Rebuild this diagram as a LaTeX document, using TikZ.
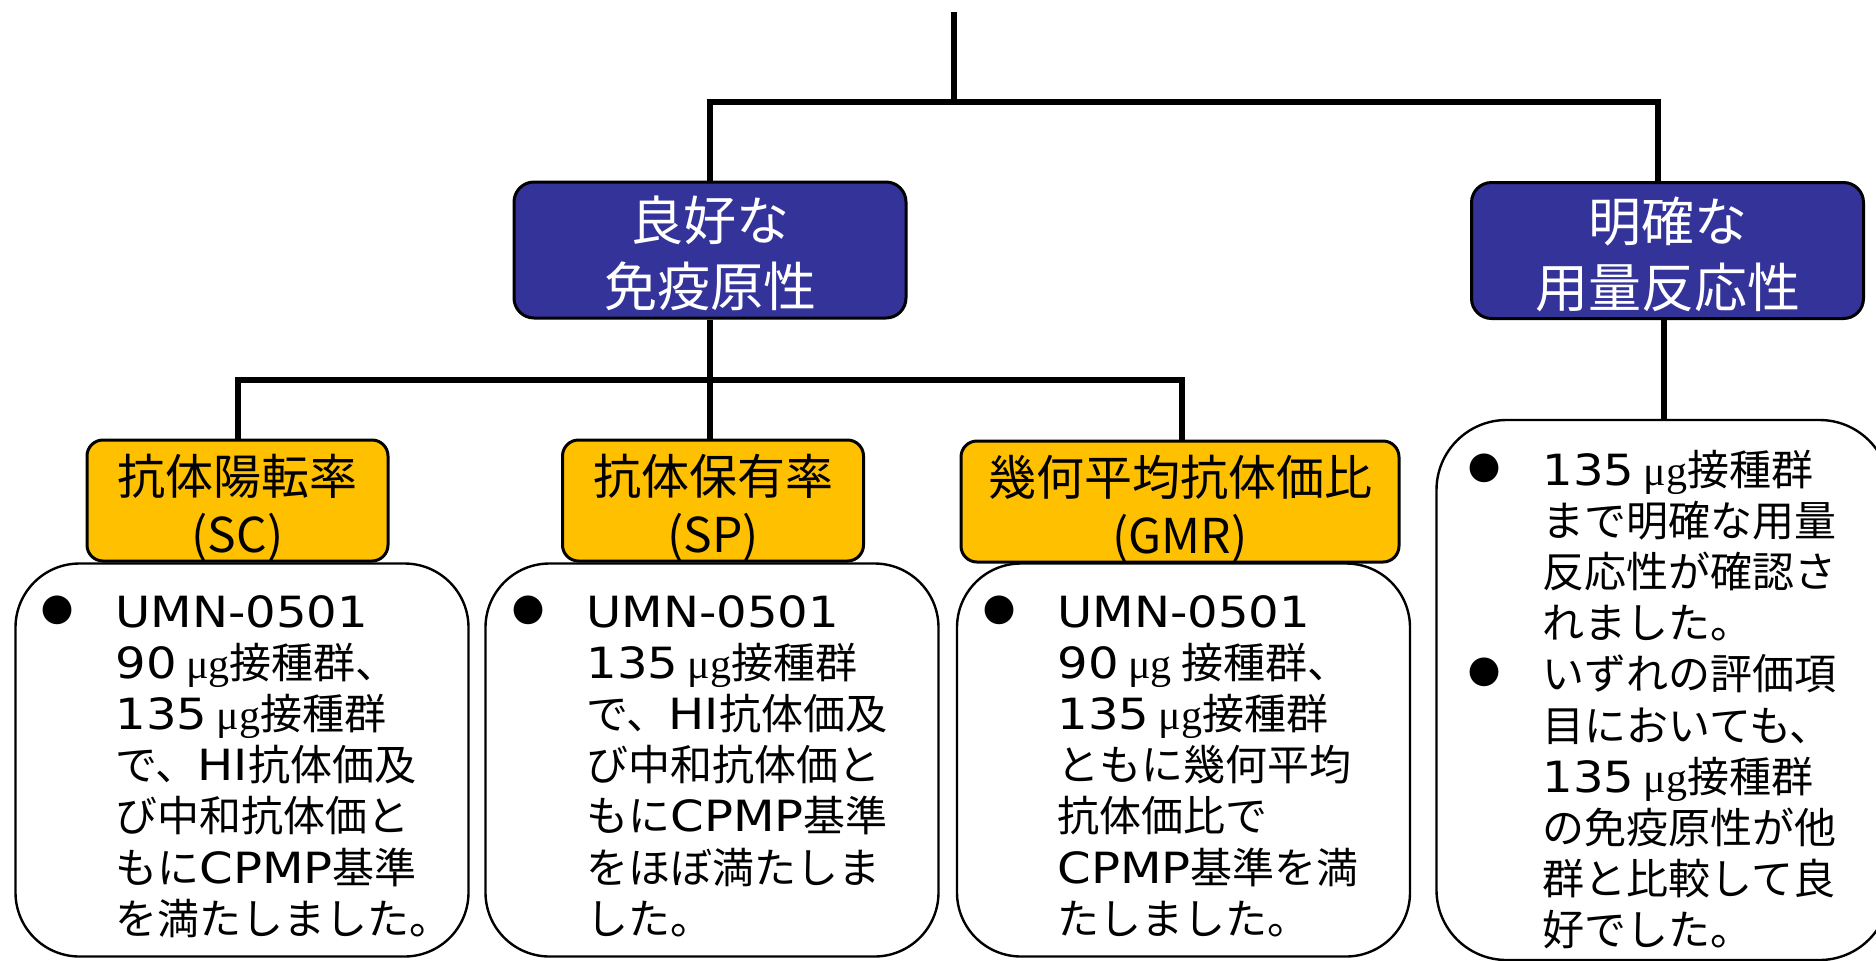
\documentclass[tikz,border=0pt]{standalone}
\usepackage{fontspec}
\setmainfont{Noto Sans CJK JP}
\newfontfamily\mufont{Liberation Serif}
\newfontfamily\latfont[FakeStretch=1.12]{DejaVu Sans}
\definecolor{navy}{RGB}{51,51,153}
\definecolor{amber}{RGB}{255,192,0}
\newcommand{\ug}{{\mufont μg}}
\newcommand{\lt}[1]{{\latfont\fontsize{21.5pt}{25.6pt}\selectfont #1}}
\newcommand{\bul}{\makebox[37pt][l]{\raisebox{2.5pt}{\fontsize{16pt}{16pt}\selectfont ●}}}
\begin{document}
\begin{tikzpicture}[x=0.5pt,y=-0.5pt,
  bluebox/.style={draw=black, line width=1.5pt, fill=navy, rounded corners=10pt,
    minimum width=196pt, minimum height=68pt, inner sep=0pt},
  bluetext/.style={text=white, align=center, inner sep=0pt,
    font=\fontsize{26.5pt}{33pt}\selectfont},
  ambbox/.style={draw=black, line width=1.5pt, fill=amber, rounded corners=8pt,
    minimum height=60.5pt, inner sep=0pt},
  ambtext/.style={align=center, inner sep=0pt, font=\fontsize{24pt}{29pt}\selectfont},
  wbox/.style={draw=black, line width=1.2pt, fill=white, rounded corners=32pt,
    minimum width=226.5pt, minimum height=196.5pt, inner sep=0pt},
  wtext/.style={anchor=base west, inner sep=0pt, font=\fontsize{21pt}{25.6pt}\selectfont},
  conn/.style={line width=3pt}]
\fill[white] (0,0) rectangle (1876,960);
\useasboundingbox (0,0) rectangle (1876,960);

% boxes
\node[bluebox] (b1) at (710,250) {};
\node[bluetext] (b1t) at (710,253.5) {良好な\\免疫原性};
\node[bluebox] (b2) at (1667.5,250.5) {};
\node[bluetext] (b2t) at (1667.5,254) {明確な\\用量反応性};

\node[ambbox, minimum width=150.5pt] (y1) at (237.5,500.5) {};
\node[ambtext] (y1t) at (237.5,508) {抗体陽転率\\(SC)};
\node[ambbox, minimum width=150.5pt] (y2) at (713,500.5) {};
\node[ambtext] (y2t) at (713,508) {抗体保有率\\(SP)};
\node[ambbox, minimum width=219pt] (y3) at (1180,501.5) {};
\node[ambtext] (y3t) at (1180,509) {幾何平均抗体価比\\(GMR)};

\node[wbox] (w1) at (242,760) {};
\node[wbox] (w2) at (712,760) {};
\node[wbox] (w3) at (1183.5,760) {};
\node[wbox, minimum height=270pt, rounded corners=35pt] (w4) at (1663,690) {};

% texts
\node[wtext] (t1) at (41,627) {\begin{tabular}[t]{@{}l@{}l@{}}
\bul & \lt{UMN-0501}\\
 & \lt{90} \ug 接種群、\\
 & \lt{135} \ug 接種群\\
 & で、\lt{HI}抗体価及\\
 & び中和抗体価と\\
 & もに\lt{CPMP}基準\\
 & を満たしました。
\end{tabular}};
\node[wtext] (t2) at (512,627) {\begin{tabular}[t]{@{}l@{}l@{}}
\bul & \lt{UMN-0501}\\
 & \lt{135} \ug 接種群\\
 & で、\lt{HI}抗体価及\\
 & び中和抗体価と\\
 & もに\lt{CPMP}基準\\
 & をほぼ満たしま\\
 & した。
\end{tabular}};
\node[wtext] (t3) at (983,627) {\begin{tabular}[t]{@{}l@{}l@{}}
\bul & \lt{UMN-0501}\\
 & \lt{90} \ug\ 接種群、\\
 & \lt{135} \ug 接種群\\
 & ともに幾何平均\\
 & 抗体価比で\\
 & \lt{CPMP}基準を満\\
 & たしました。
\end{tabular}};
\node[wtext] (t4) at (1468,485) {\begin{tabular}[t]{@{}l@{}l@{}}
\bul & \lt{135} \ug 接種群\\
 & まで明確な用量\\
 & 反応性が確認さ\\
 & れました。\\
\bul & いずれの評価項\\
 & 目においても、\\
 & \lt{135} \ug 接種群\\
 & の免疫原性が他\\
 & 群と比較して良\\
 & 好でした。
\end{tabular}};

% connectors
\coordinate (top) at (954,12);
\coordinate (j1) at (954,102);
\coordinate (j2) at (710,380);
\draw[conn] (top) -- (j1);
\draw[conn] (b1.north) |- (j1) -| ([xshift=-5pt]b2.north);
\draw[conn] (b1.south) -- (j2);
\draw[conn] (y1.north) |- (j2) -| ([xshift=1pt]y3.north);
\draw[conn] (j2) -- (j2 |- y2.north);
\draw[conn] ([xshift=-2pt]b2.south) -- ([xshift=-2pt]b2.south |- w4.north);
\end{tikzpicture}
\end{document}
